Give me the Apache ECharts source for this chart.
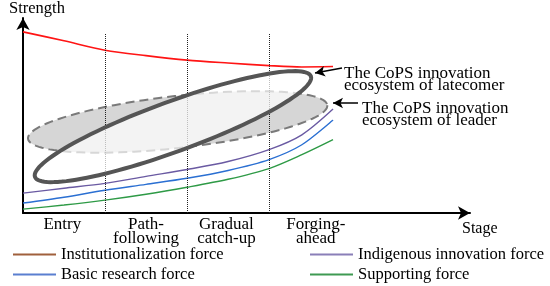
<!DOCTYPE html>
<html>
<head>
<meta charset="utf-8">
<script src="https://cdn.jsdelivr.net/npm/echarts@6/dist/echarts.min.js"></script>
<style>
  html, body { margin: 0; padding: 0; background: #fff; }
  #main { width: 550px; height: 286px; }
</style>
</head>
<body>
<div id="main"></div>
<script>
// stages along the x axis
var stages = ['Entry', 'Path-\nfollowing', 'Gradual\ncatch-up', 'Forging-\nahead'];
var stageCenters = [0.48, 1.5, 2.48, 3.57];
var stageBounds = [1, 2, 3];

// sample positions of the curves
var xs = [0, 0.5, 1, 1.5, 2, 2.5, 3, 3.4, 3.78];
var institutional = [92.9, 88.3, 83.5, 80.7, 78.4, 76.9, 75.6, 74.9, 75.1];
var indigenous = [10.2, 12.7, 15.2, 18.8, 22.3, 26.4, 32.5, 40.1, 53.3];
var basicResearch = [5.1, 8.1, 11.7, 14.7, 17.8, 21.8, 27.4, 35.0, 47.7];
var supporting = [2.0, 4.1, 6.6, 9.6, 13.2, 17.3, 22.8, 29.9, 37.6];

// ecosystems: ellipse long-axis end points [x1, y1, x2, y2]
var leaderEnds = [[0.061, 38.1, 3.71, 55.3]];
var latecomerEnds = [[0.146, 18.5, 3.51, 70.1]];

var serif = '"Liberation Serif", "DejaVu Serif", serif';

function pairs(ys) {
  return xs.map(function (x, i) { return [x, ys[i]]; });
}

// draws an ellipse between two data points, half width in px
function ellipseItem(halfWidth, style) {
  return function (params, api) {
    var p1 = api.coord([api.value(0), api.value(1)]);
    var p2 = api.coord([api.value(2), api.value(3)]);
    var cx = (p1[0] + p2[0]) / 2, cy = (p1[1] + p2[1]) / 2;
    var dx = p2[0] - p1[0], dy = p2[1] - p1[1];
    var len = Math.sqrt(dx * dx + dy * dy);
    var ux = dx / len, uy = dy / len;
    var nx = -uy, ny = ux;
    var a = len / 2, pts = [];
    for (var k = 0; k < 120; k++) {
      var t = k / 120 * Math.PI * 2;
      var c = Math.cos(t) * a, s = Math.sin(t) * halfWidth;
      pts.push([cx + c * ux + s * nx, cy + c * uy + s * ny]);
    }
    return { type: 'polygon', shape: { points: pts }, style: style };
  };
}

var myChart = echarts.init(document.getElementById('main'));

var legendBase = {
  orient: 'vertical',
  top: 246,
  padding: 0,
  icon: 'rect',
  itemWidth: 43,
  itemHeight: 2,
  itemGap: 3,
  textStyle: { fontFamily: serif, fontSize: 16.5, color: '#000', lineHeight: 17 }
};

var option = {
  animation: false,
  grid: { left: 23, right: 80, top: 16, bottom: 73 },
  xAxis: {
    type: 'value',
    min: 0,
    max: 5.45,
    name: 'Stage',
    nameLocation: 'end',
    nameGap: -8,
    nameTextStyle: {
      fontFamily: serif, fontSize: 16, color: '#000',
      align: 'left', verticalAlign: 'top', padding: [8, 0, 0, 0]
    },
    axisLine: {
      show: true,
      symbol: ['none', 'arrow'],
      symbolSize: [10, 12],
      lineStyle: { color: '#000', width: 2 }
    },
    axisTick: { show: false },
    splitLine: { show: false },
    axisLabel: {
      customValues: stageCenters,
      formatter: function (v) {
        var i = stageCenters.indexOf(v);
        return i >= 0 ? stages[i] : '';
      },
      fontFamily: serif,
      fontSize: 17,
      lineHeight: 14,
      color: '#000',
      margin: 5
    }
  },
  yAxis: {
    type: 'value',
    min: 0,
    max: 100,
    name: 'Strength',
    nameLocation: 'end',
    nameGap: 1,
    nameTextStyle: {
      fontFamily: serif, fontSize: 16.5, color: '#000',
      padding: [0, 0, 0, 28]
    },
    axisLine: {
      show: true,
      symbol: ['none', 'arrow'],
      symbolSize: [10, 12],
      lineStyle: { color: '#000', width: 2 }
    },
    axisTick: { show: false },
    axisLabel: { show: false },
    splitLine: { show: false }
  },
  legend: [
    Object.assign({}, legendBase, {
      left: 13,
      data: [
        { name: 'Institutionalization force', itemStyle: { color: '#a0603c' } },
        { name: 'Basic research force', itemStyle: { color: '#5a7fd0' } }
      ]
    }),
    Object.assign({}, legendBase, {
      left: 310,
      data: [
        { name: 'Indigenous innovation force', itemStyle: { color: '#8a7fb8' } },
        { name: 'Supporting force', itemStyle: { color: '#3f9a52' } }
      ]
    })
  ],
  graphic: [{
    type: 'text', left: 344, top: 65, z: 10,
    style: {
      text: 'The CoPS innovation\necosystem of latecomer',
      font: '17px ' + serif, fill: '#000', lineHeight: 12
    }
  }, {
    type: 'text', left: 362, top: 100, z: 10,
    style: {
      text: 'The CoPS innovation\necosystem of leader',
      font: '17px ' + serif, fill: '#000', lineHeight: 12
    }
  }],
  series: [
    {
      name: 'Institutionalization force',
      type: 'line',
      data: pairs(institutional),
      smooth: 0.3,
      symbol: 'none',
      lineStyle: { color: '#ff1414', width: 1.6 },
      itemStyle: { color: '#ff1414' },
      z: 3,
      markLine: {
        silent: true,
        symbol: 'none',
        label: { show: false },
        lineStyle: { color: '#222', type: 'dotted', width: 1 },
        data: stageBounds.map(function (b) {
          return [{ coord: [b, 0] }, { coord: [b, 92] }];
        })
      }
    },
    {
      name: 'Indigenous innovation force',
      type: 'line',
      data: pairs(indigenous),
      smooth: 0.3,
      symbol: 'none',
      lineStyle: { color: '#6a5aa2', width: 1.4 },
      itemStyle: { color: '#6a5aa2' },
      z: 3
    },
    {
      name: 'Basic research force',
      type: 'line',
      data: pairs(basicResearch),
      smooth: 0.3,
      symbol: 'none',
      lineStyle: { color: '#2a6fd2', width: 1.4 },
      itemStyle: { color: '#2a6fd2' },
      z: 3
    },
    {
      name: 'Supporting force',
      type: 'line',
      data: pairs(supporting),
      smooth: 0.3,
      symbol: 'none',
      lineStyle: { color: '#2e9a46', width: 1.4 },
      itemStyle: { color: '#2e9a46' },
      z: 3,
      markLine: {
        silent: true,
        symbol: ['none', 'arrow'],
        symbolSize: [8, 10],
        label: { show: false },
        lineStyle: { color: '#000', type: 'solid', width: 1.5 },
        data: [
          [{ x: 342, y: 68 }, { x: 315, y: 73 }],
          [{ x: 358, y: 103 }, { x: 333, y: 103 }]
        ]
      }
    },
    {
      name: 'leader ecosystem',
      type: 'custom',
      data: leaderEnds,
      z: 4,
      renderItem: ellipseItem(26, {
        fill: '#d6d6d6', stroke: '#7a7a7a', lineWidth: 2, lineDash: [9, 5]
      })
    },
    {
      name: 'latecomer ecosystem',
      type: 'custom',
      data: latecomerEnds,
      z: 5,
      renderItem: ellipseItem(25, {
        fill: 'rgba(255,255,255,0.7)', stroke: '#555', lineWidth: 4
      })
    }
  ]
};

myChart.setOption(option);
window.onresize = myChart.resize;
</script>
</body>
</html>
